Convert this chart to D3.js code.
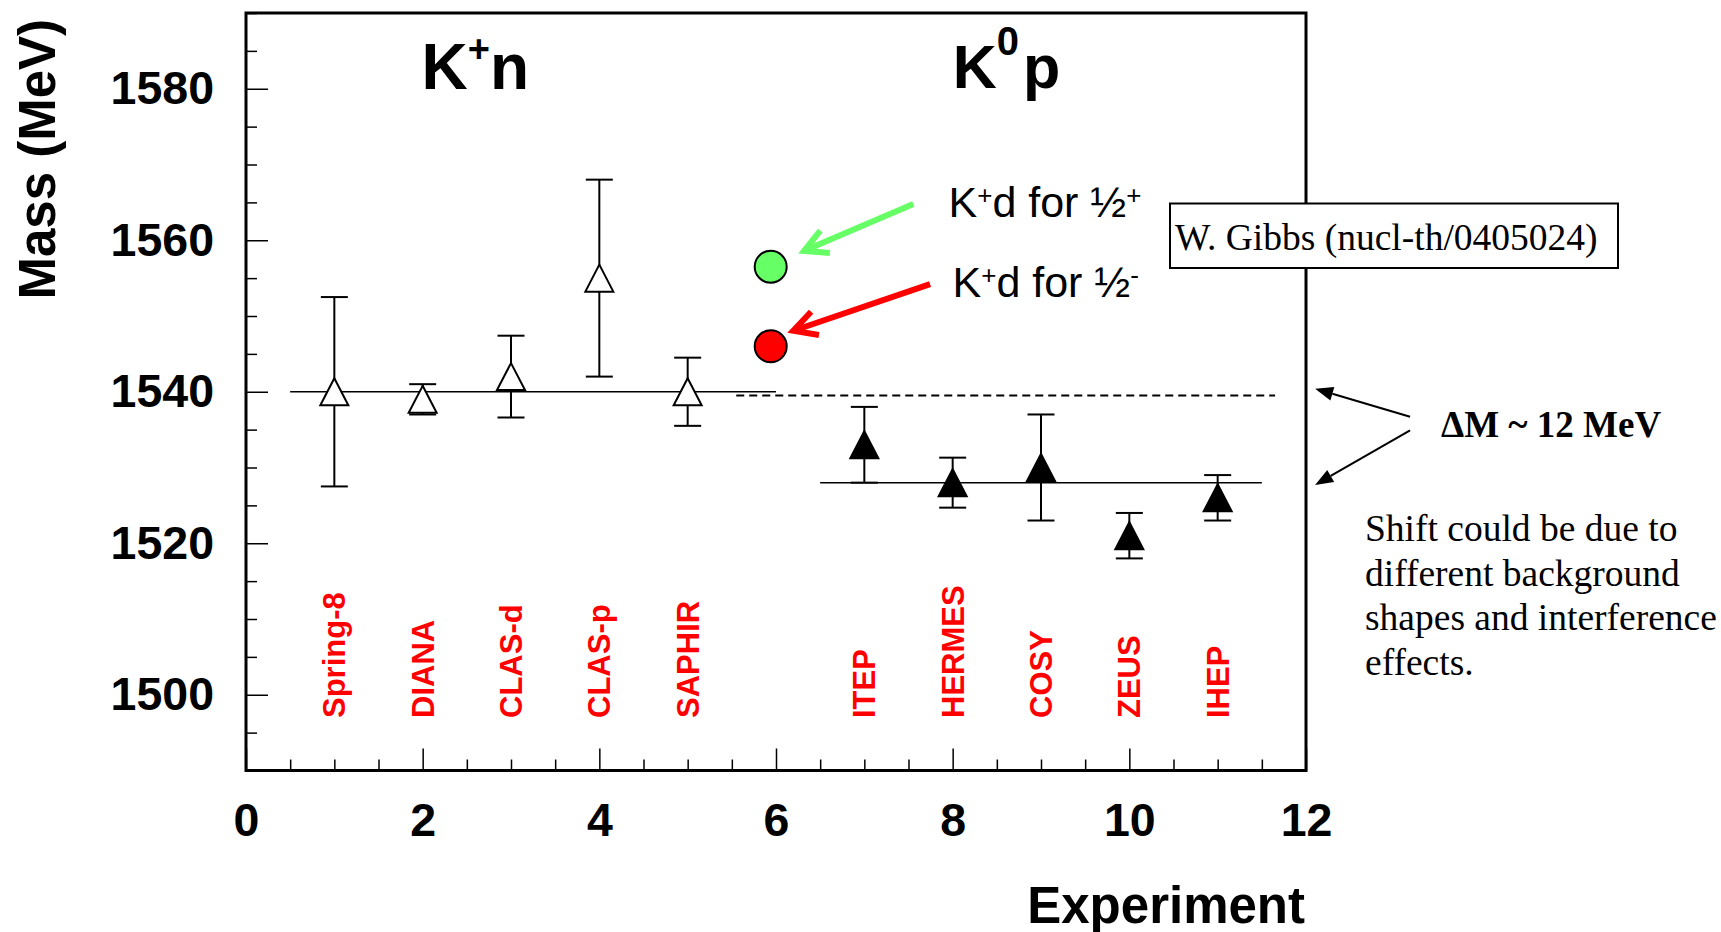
<!DOCTYPE html>
<html>
<head>
<meta charset="utf-8">
<script src="https://cdn.jsdelivr.net/npm/d3@7"></script>
<style>
  html, body { margin: 0; padding: 0; background: #fff; }
  svg { display: block; }
</style>
</head>
<body>
<svg id="chart" width="1721" height="932"></svg>
<script>
// Pentaquark Θ+ mass measurements by experiment
const experiments = ["Spring-8", "DIANA", "CLAS-d", "CLAS-p", "SAPHIR",
                     "ITEP", "HERMES", "COSY", "ZEUS", "IHEP"];
const experimentIndex = [1, 2, 3, 4, 5, 7, 8, 9, 10, 11];
const massValues = [1540, 1539, 1542, 1555, 1540, 1533, 1528, 1530, 1521, 1526];
const massErrors = [12.5, 2, 5.4, 13, 4.5, 5, 3.3, 7, 3, 3];
const channels = ["K+n", "K+n", "K+n", "K+n", "K+n", "K0p", "K0p", "K0p", "K0p", "K0p"];

// K+d predictions (W. Gibbs) for the two parity hypotheses
const predictionIndex = [5.94, 5.94];
const predictionMass = [1556.5, 1546];
const predictionColor = ["#66ff66", "#ff0000"];

// Average mass lines: [x start, x end, mass]
const kPlusAverage = [0.5, 6.0, 1540];
const kZeroAverage = [6.5, 11.5, 1528];
const kPlusReference = [5.55, 11.65, 1539.5];

// Axis ticks
const xMajorTicks = [0, 2, 4, 6, 8, 10, 12];
const yMajorTicks = [1500, 1520, 1540, 1560, 1580];

// Annotation arrows in data units: [x0, y0, x1 (tip), y1 (tip)]
const greenArrow = [7.555, 1564.8, 6.317, 1558.6];
const redArrow = [7.744, 1554.2, 6.196, 1548.05];
const shiftArrows = [[13.178, 1536.7, 12.103, 1540.4],
                     [13.178, 1534.9, 12.103, 1527.7]];

const svg = d3.select("#chart");
const SANS = "'Liberation Sans', Arial, Helvetica, sans-serif";
const SERIF = "'Liberation Serif', 'Times New Roman', Times, serif";

svg.append("rect").attr("width", 1721).attr("height", 932).attr("fill", "#fff");

const x = d3.scaleLinear().domain([0, 12]).range([246, 1306]);
const y = d3.scaleLinear().domain([1490, 1590]).range([770.5, 13]);

// ---- axes (ticks point into the frame) ----
const xMinor = d3.range(0, 12.01, 0.5).filter(v => v % 2 !== 0);
const yMinor = d3.range(1490, 1590.01, 5).filter(v => v % 20 !== 0);

const gx = svg.append("g").attr("transform", `translate(0,${y(1490)})`);
gx.call(d3.axisBottom(x).tickValues(xMajorTicks).tickSize(-22).tickPadding(32)
  .tickFormat(d3.format("d")));
gx.append("g").call(d3.axisBottom(x).tickValues(xMinor).tickSize(-11).tickFormat(""));

const gy = svg.append("g").attr("transform", `translate(${x(0)},0)`);
gy.call(d3.axisLeft(y).tickValues(yMajorTicks).tickSize(-22).tickPadding(32)
  .tickFormat(d3.format("d")));
gy.append("g").call(d3.axisLeft(y).tickValues(yMinor).tickSize(-11).tickFormat(""));

svg.selectAll(".domain").remove();
svg.selectAll(".tick line").attr("stroke", "#000").attr("stroke-width", 1.5);
svg.selectAll(".tick text")
  .attr("font-family", SANS).attr("font-weight", "bold")
  .attr("font-size", 46.5).attr("fill", "#000");

// frame
svg.append("rect")
  .attr("x", x(0)).attr("y", y(1590))
  .attr("width", x(12) - x(0)).attr("height", y(1490) - y(1590))
  .attr("fill", "none").attr("stroke", "#000").attr("stroke-width", 3);

// axis titles
svg.append("text")
  .attr("x", 1305).attr("y", 922.5)
  .attr("text-anchor", "end")
  .attr("font-family", SANS).attr("font-weight", "bold").attr("font-size", 51)
  .text("Experiment");

svg.append("text")
  .attr("transform", "translate(55,19) rotate(-90)")
  .attr("text-anchor", "end")
  .attr("font-family", SANS).attr("font-weight", "bold").attr("font-size", 51)
  .text("Mass (MeV)");

// ---- average lines ----
function hline(spec, dashed) {
  svg.append("line")
    .attr("x1", x(spec[0])).attr("x2", x(spec[1]))
    .attr("y1", y(spec[2])).attr("y2", y(spec[2]))
    .attr("stroke", "#000")
    .attr("stroke-width", dashed ? 2 : 1.5)
    .attr("stroke-dasharray", dashed ? "8,5" : null);
}
hline(kPlusAverage, false);
hline(kZeroAverage, false);
hline(kPlusReference, true);

// ---- measurements ----
const points = experiments.map((name, i) => ({
  name, xi: experimentIndex[i], m: massValues[i], e: massErrors[i], ch: channels[i]
}));

const cap = 13.5;
const bars = svg.append("g").attr("stroke", "#000").attr("stroke-width", 2);
points.forEach(p => {
  const cx = x(p.xi);
  bars.append("line").attr("x1", cx).attr("x2", cx)
    .attr("y1", y(p.m - p.e)).attr("y2", y(p.m + p.e));
  [p.m - p.e, p.m + p.e].forEach(v => {
    bars.append("line").attr("x1", cx - cap).attr("x2", cx + cap)
      .attr("y1", y(v)).attr("y2", y(v));
  });
});

const tw = 14, th = 13.5;
svg.append("g").selectAll("path").data(points).join("path")
  .attr("d", p => {
    const cx = x(p.xi), cy = y(p.m);
    return `M${cx},${cy - th}L${cx + tw},${cy + th}L${cx - tw},${cy + th}Z`;
  })
  .attr("fill", p => p.ch === "K+n" ? "#fff" : "#000")
  .attr("stroke", "#000").attr("stroke-width", 2)
  .attr("stroke-linejoin", "miter");

// experiment names
svg.append("g").selectAll("text").data(points).join("text")
  .attr("transform", p => `translate(${x(p.xi) + 11},718) rotate(-90)`)
  .attr("font-family", SANS).attr("font-weight", "bold").attr("font-size", 31)
  .attr("fill", "#ff0000")
  .text(p => p.name);

// ---- K+d predictions ----
svg.append("g").selectAll("circle").data(predictionMass).join("circle")
  .attr("cx", (d, i) => x(predictionIndex[i]))
  .attr("cy", d => y(d))
  .attr("r", 16)
  .attr("fill", (d, i) => predictionColor[i])
  .attr("stroke", "#000").attr("stroke-width", 2);

function openArrow(a, color) {
  const x0 = x(a[0]), y0 = y(a[1]), x1 = x(a[2]), y1 = y(a[3]);
  const ang = Math.atan2(y0 - y1, x0 - x1);
  const len = 26, spread = 28 * Math.PI / 180;
  const p1 = [x1 + len * Math.cos(ang + spread), y1 + len * Math.sin(ang + spread)];
  const p2 = [x1 + len * Math.cos(ang - spread), y1 + len * Math.sin(ang - spread)];
  const g = svg.append("g").attr("stroke", color).attr("stroke-width", 6)
    .attr("fill", "none");
  g.append("line").attr("x1", x0).attr("y1", y0).attr("x2", x1).attr("y2", y1);
  g.append("path").attr("d", `M${p1[0]},${p1[1]}L${x1},${y1}L${p2[0]},${p2[1]}`)
    .attr("stroke-linejoin", "miter");
}
openArrow(greenArrow, predictionColor[0]);
openArrow(redArrow, predictionColor[1]);

function predictionLabel(px, py, sign) {
  const t = svg.append("text").attr("x", px).attr("y", py)
    .attr("font-family", SANS).attr("font-size", 43).attr("fill", "#000");
  t.append("tspan").text("K");
  t.append("tspan").attr("font-size", 26).attr("dy", -13).text("+");
  t.append("tspan").attr("dy", 13).text("d for \u00BD");
  t.append("tspan").attr("font-size", 26).attr("dy", -13).text(sign);
}
predictionLabel(948.5, 216.5, "+");
predictionLabel(952.5, 296.5, "-");

// ---- channel titles ----
const t1 = svg.append("text").attr("x", 421.5).attr("y", 89)
  .attr("font-family", SANS).attr("font-weight", "bold").attr("font-size", 64);
t1.append("tspan").text("K");
t1.append("tspan").attr("font-size", 38).attr("dy", -27).text("+");
t1.append("tspan").attr("dy", 27).text("n");

const t2 = svg.append("text").attr("x", 952.7).attr("y", 87.5)
  .attr("font-family", SANS).attr("font-weight", "bold").attr("font-size", 61);
t2.append("tspan").text("K");
t2.append("tspan").attr("font-size", 40).attr("dy", -32.5).text("0");
t2.append("tspan").attr("dy", 32.5).attr("dx", 4).text("p");

// ---- reference box ----
svg.append("rect")
  .attr("x", 1170).attr("y", 203.5).attr("width", 448).attr("height", 64.5)
  .attr("fill", "#fff").attr("stroke", "#000").attr("stroke-width", 2);
svg.append("text").attr("x", 1175).attr("y", 249.5)
  .attr("font-family", SERIF).attr("font-size", 37.5)
  .text("W. Gibbs (nucl-th/0405024)");

// ---- mass shift annotation ----
shiftArrows.forEach(a => {
  const x0 = x(a[0]), y0 = y(a[1]), x1 = x(a[2]), y1 = y(a[3]);
  const ang = Math.atan2(y0 - y1, x0 - x1);
  const hl = 18, hw = 7;
  const bx = x1 + hl * Math.cos(ang), by = y1 + hl * Math.sin(ang);
  const nx = -Math.sin(ang) * hw, ny = Math.cos(ang) * hw;
  svg.append("line").attr("x1", x0).attr("y1", y0).attr("x2", bx).attr("y2", by)
    .attr("stroke", "#000").attr("stroke-width", 2);
  svg.append("path")
    .attr("d", `M${x1},${y1}L${bx + nx},${by + ny}L${bx - nx},${by - ny}Z`)
    .attr("fill", "#000");
});

svg.append("text").attr("x", 1441).attr("y", 436.7)
  .attr("font-family", SERIF).attr("font-weight", "bold").attr("font-size", 37)
  .text("\u0394M ~ 12 MeV");

const shiftLines = ["Shift could be due to", "different background",
                    "shapes and interference", "effects."];
svg.append("g").selectAll("text").data(shiftLines).join("text")
  .attr("x", 1365).attr("y", (d, i) => 541 + i * 44.6)
  .attr("font-family", SERIF).attr("font-size", 37.5)
  .text(d => d);
</script>
</body>
</html>
